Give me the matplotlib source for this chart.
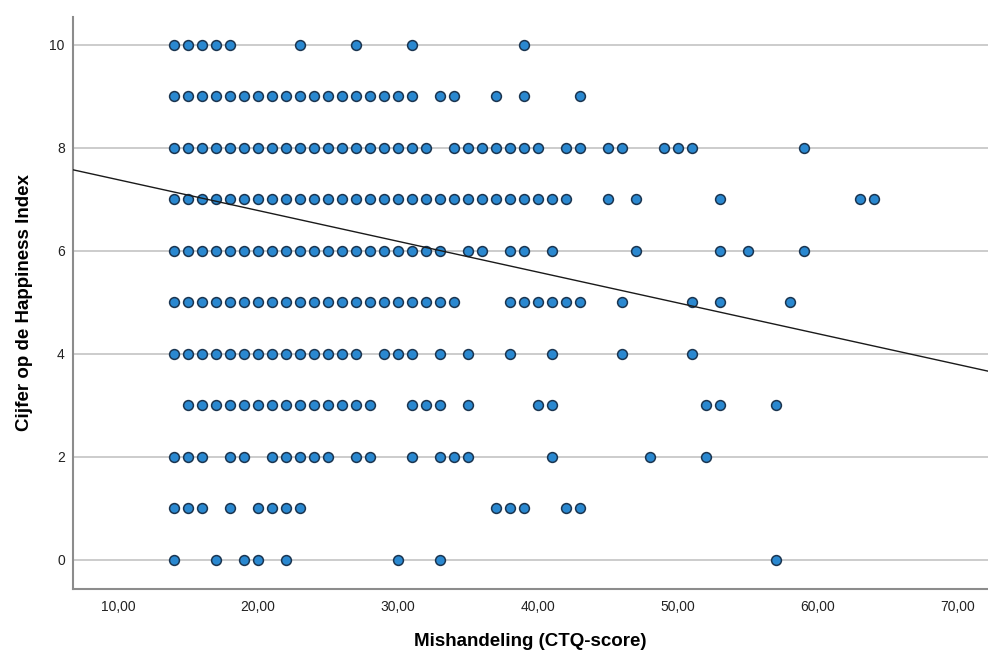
import numpy as np
import matplotlib
matplotlib.use('Agg')
from matplotlib import pyplot as plt

# CTQ-scores per cijfer (Happiness Index)
ctq_10 = [14, 15, 16, 17, 18, 23, 27, 31, 39]
ctq_9 = list(range(14, 32)) + [33, 34, 37, 39, 43]
ctq_8 = list(range(14, 33)) + [34, 35, 36, 37, 38, 39, 40, 42, 43, 45, 46, 49, 50, 51, 59]
ctq_7 = list(range(14, 43)) + [45, 47, 53, 63, 64]
ctq_6 = list(range(14, 34)) + [35, 36, 38, 39, 41, 47, 53, 55, 59]
ctq_5 = list(range(14, 35)) + [38, 39, 40, 41, 42, 43, 46, 51, 53, 58]
ctq_4 = list(range(14, 28)) + [29, 30, 31, 33, 35, 38, 41, 46, 51]
ctq_3 = list(range(15, 29)) + [31, 32, 33, 35, 40, 41, 52, 53, 57]
ctq_2 = [14, 15, 16, 18, 19, 21, 22, 23, 24, 25, 27, 28, 31, 33, 34, 35, 41, 48, 52]
ctq_1 = [14, 15, 16, 18, 20, 21, 22, 23, 37, 38, 39, 42, 43]
ctq_0 = [14, 17, 19, 20, 22, 30, 33, 57]

rows = [ctq_0, ctq_1, ctq_2, ctq_3, ctq_4, ctq_5, ctq_6, ctq_7, ctq_8, ctq_9, ctq_10]
scores = [0, 1, 2, 3, 4, 5, 6, 7, 8, 9, 10]

# regressielijn (totaal)
intercept = 7.98
slope = -0.0598

xticks = [10, 20, 30, 40, 50, 60, 70]
yticks = [0, 2, 4, 6, 8, 10]

plt.rcParams['font.family'] = ['Liberation Sans', 'DejaVu Sans']

fig = plt.figure(figsize=(9.88, 6.55), dpi=100)
ax = fig.add_axes([0.074, 0.101, 0.926, 0.873])

x = []
y = []
for s, r in zip(scores, rows):
    x += r
    y += [s] * len(r)

ax.scatter(x, y, s=50, c='#2a88d0', edgecolors='#1b3550', linewidths=1.1, zorder=3)

xmin, xmax = 6.79, 72.14
xl = np.array([xmin, xmax])
ax.plot(xl, intercept + slope * xl, color='#1a1a1a', lw=1.0, zorder=4)

ax.set_xlim(xmin, xmax)
ax.set_ylim(-0.56, 10.54)
ax.set_xticks(xticks)
ax.set_xticklabels(['%d,00' % v for v in xticks])
ax.set_yticks(yticks)
ax.tick_params(length=0, labelsize=10, colors='#222222')
ax.tick_params(axis='x', pad=8)
ax.tick_params(axis='y', pad=6)

for v in yticks:
    ax.axhline(v, color='#cccccc', lw=1.4, zorder=1)

ax.spines['top'].set_visible(False)
ax.spines['right'].set_visible(False)
ax.spines['left'].set_color('#8c8c8c')
ax.spines['bottom'].set_color('#8c8c8c')
ax.spines['left'].set_linewidth(1.5)
ax.spines['bottom'].set_linewidth(1.5)

ax.set_xlabel('Mishandeling (CTQ-score)', fontsize=13.5, fontweight='bold', labelpad=14)
ax.set_ylabel('Cijfer op de Happiness Index', fontsize=13.5, fontweight='bold', labelpad=12)

plt.savefig('out.png', dpi=100)
